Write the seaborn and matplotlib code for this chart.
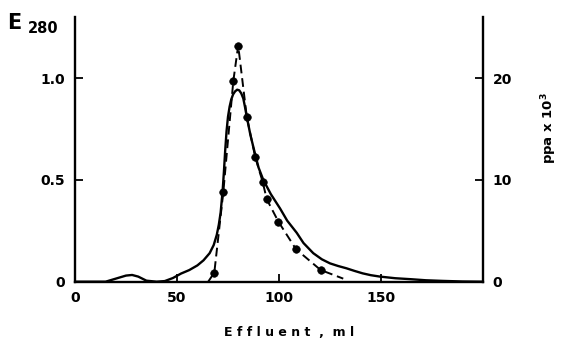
import numpy as np
import pandas as pd
import seaborn as sns
import matplotlib.pyplot as plt

# E280 absorbance (solid line), left axis
e280_ml = [0, 15, 20, 25, 28, 31, 35, 40, 44, 48, 52, 56, 60, 63, 66, 68, 69.5, 70.5,
           71.4, 72.4, 73, 73.6, 74.3, 75, 75.8, 76.6, 77.5, 78.5, 79.5, 80.5, 81.5,
           82.5, 83.3, 84.2, 86, 88.2, 90, 92.3, 96, 100.5, 104, 108.7, 112, 116.8,
           121, 125, 129, 133, 137, 141, 145, 149.5, 157, 165, 172, 180, 190, 200]
e280 = [0, 0, 0.015, 0.03, 0.033, 0.025, 0.005, 0, 0.003, 0.018, 0.04, 0.057, 0.08,
        0.105, 0.14, 0.18, 0.23, 0.28, 0.34, 0.45, 0.54, 0.64, 0.74, 0.81, 0.86, 0.895,
        0.92, 0.935, 0.943, 0.94, 0.925, 0.9, 0.86, 0.81, 0.72, 0.63, 0.56, 0.50, 0.43,
        0.36, 0.30, 0.24, 0.19, 0.14, 0.11, 0.09, 0.077, 0.066, 0.053, 0.041, 0.032,
        0.025, 0.017, 0.012, 0.007, 0.004, 0.001, 0]

# ppa x 10^3 measured points, right axis
ppa_ml = [68.3, 72.7, 77.6, 80.0, 84.2, 88.4, 92.0, 94.0, 99.7, 108.3, 120.4]
ppa = [0.9, 8.8, 19.7, 23.2, 16.2, 12.2, 9.8, 8.1, 5.9, 3.2, 1.15]
# dashed curve ends
ppa_line_ml = [65.3] + ppa_ml + [131.5]
ppa_line = [0] + ppa + [0.3]

sns.set_style('ticks')
plt.rcParams['font.family'] = ['DejaVu Sans']
plt.rcParams['font.weight'] = 'bold'
plt.rcParams['text.color'] = 'black'
plt.rcParams['axes.edgecolor'] = 'black'
plt.rcParams['xtick.color'] = 'black'
plt.rcParams['ytick.color'] = 'black'

fig = plt.figure(figsize=(5.63, 3.45), dpi=100)
ax = fig.add_axes([0.1332, 0.1835, 0.7247, 0.7672])
ax2 = ax.twinx()

df_e = pd.DataFrame({'ml': e280_ml, 'E280': e280})
df_line = pd.DataFrame({'ml': ppa_line_ml, 'ppa': ppa_line})
df_pts = pd.DataFrame({'ml': ppa_ml, 'ppa': ppa})

sns.lineplot(data=df_e, x='ml', y='E280', ax=ax, color='black', lw=1.7, estimator=None)
sns.lineplot(data=df_line, x='ml', y='ppa', ax=ax2, color='black', lw=1.4,
             estimator=None, sort=False, dashes=False, linestyle=(0, (4.5, 2.5)))
sns.scatterplot(data=df_pts, x='ml', y='ppa', ax=ax2, color='black', s=30,
                edgecolor='black', zorder=5)

ax.set_xlim(0, 200)
ax.set_ylim(0, 1.30)
ax2.set_ylim(0, 26)
ax.set_xticks([0, 50, 100, 150])
ax.set_xticklabels(['0', '50', '100', '150'])
ax.set_yticks([0, 0.5, 1.0])
ax.set_yticklabels(['0', '0.5', '1.0'])
ax2.set_yticks([0, 10, 20])
ax2.set_yticklabels(['0', '10', '20'])

for a in (ax, ax2):
    a.spines['top'].set_visible(False)
    for s in a.spines.values():
        s.set_linewidth(1.7)
        s.set_color('black')
    a.tick_params(direction='in', length=6, width=1.3, labelsize=10, pad=7,
                  colors='black')
    a.set_xlabel('')
    a.set_ylabel('')
ax.spines['right'].set_visible(False)
ax2.spines['left'].set_visible(False)
ax2.spines['bottom'].set_visible(False)

for lab in ax.get_xticklabels() + ax.get_yticklabels() + ax2.get_yticklabels():
    lab.set_fontweight('bold')

fig.text(0.513, 0.035, 'E f f l u e n t  ,  m l', ha='center', va='center',
         fontsize=9, fontweight='bold', color='black')
fig.text(0.013, 0.933, 'E', fontsize=15, fontweight='bold', va='center', color='black')
fig.text(0.05, 0.918, '280', fontsize=10.5, fontweight='bold', va='center', color='black')
fig.text(0.975, 0.63, r'ppa x 10$^{\mathbf{3}}$', rotation=90, ha='center',
         va='center', fontsize=9.5, fontweight='bold', color='black')

fig.savefig('out.png', dpi=100)
